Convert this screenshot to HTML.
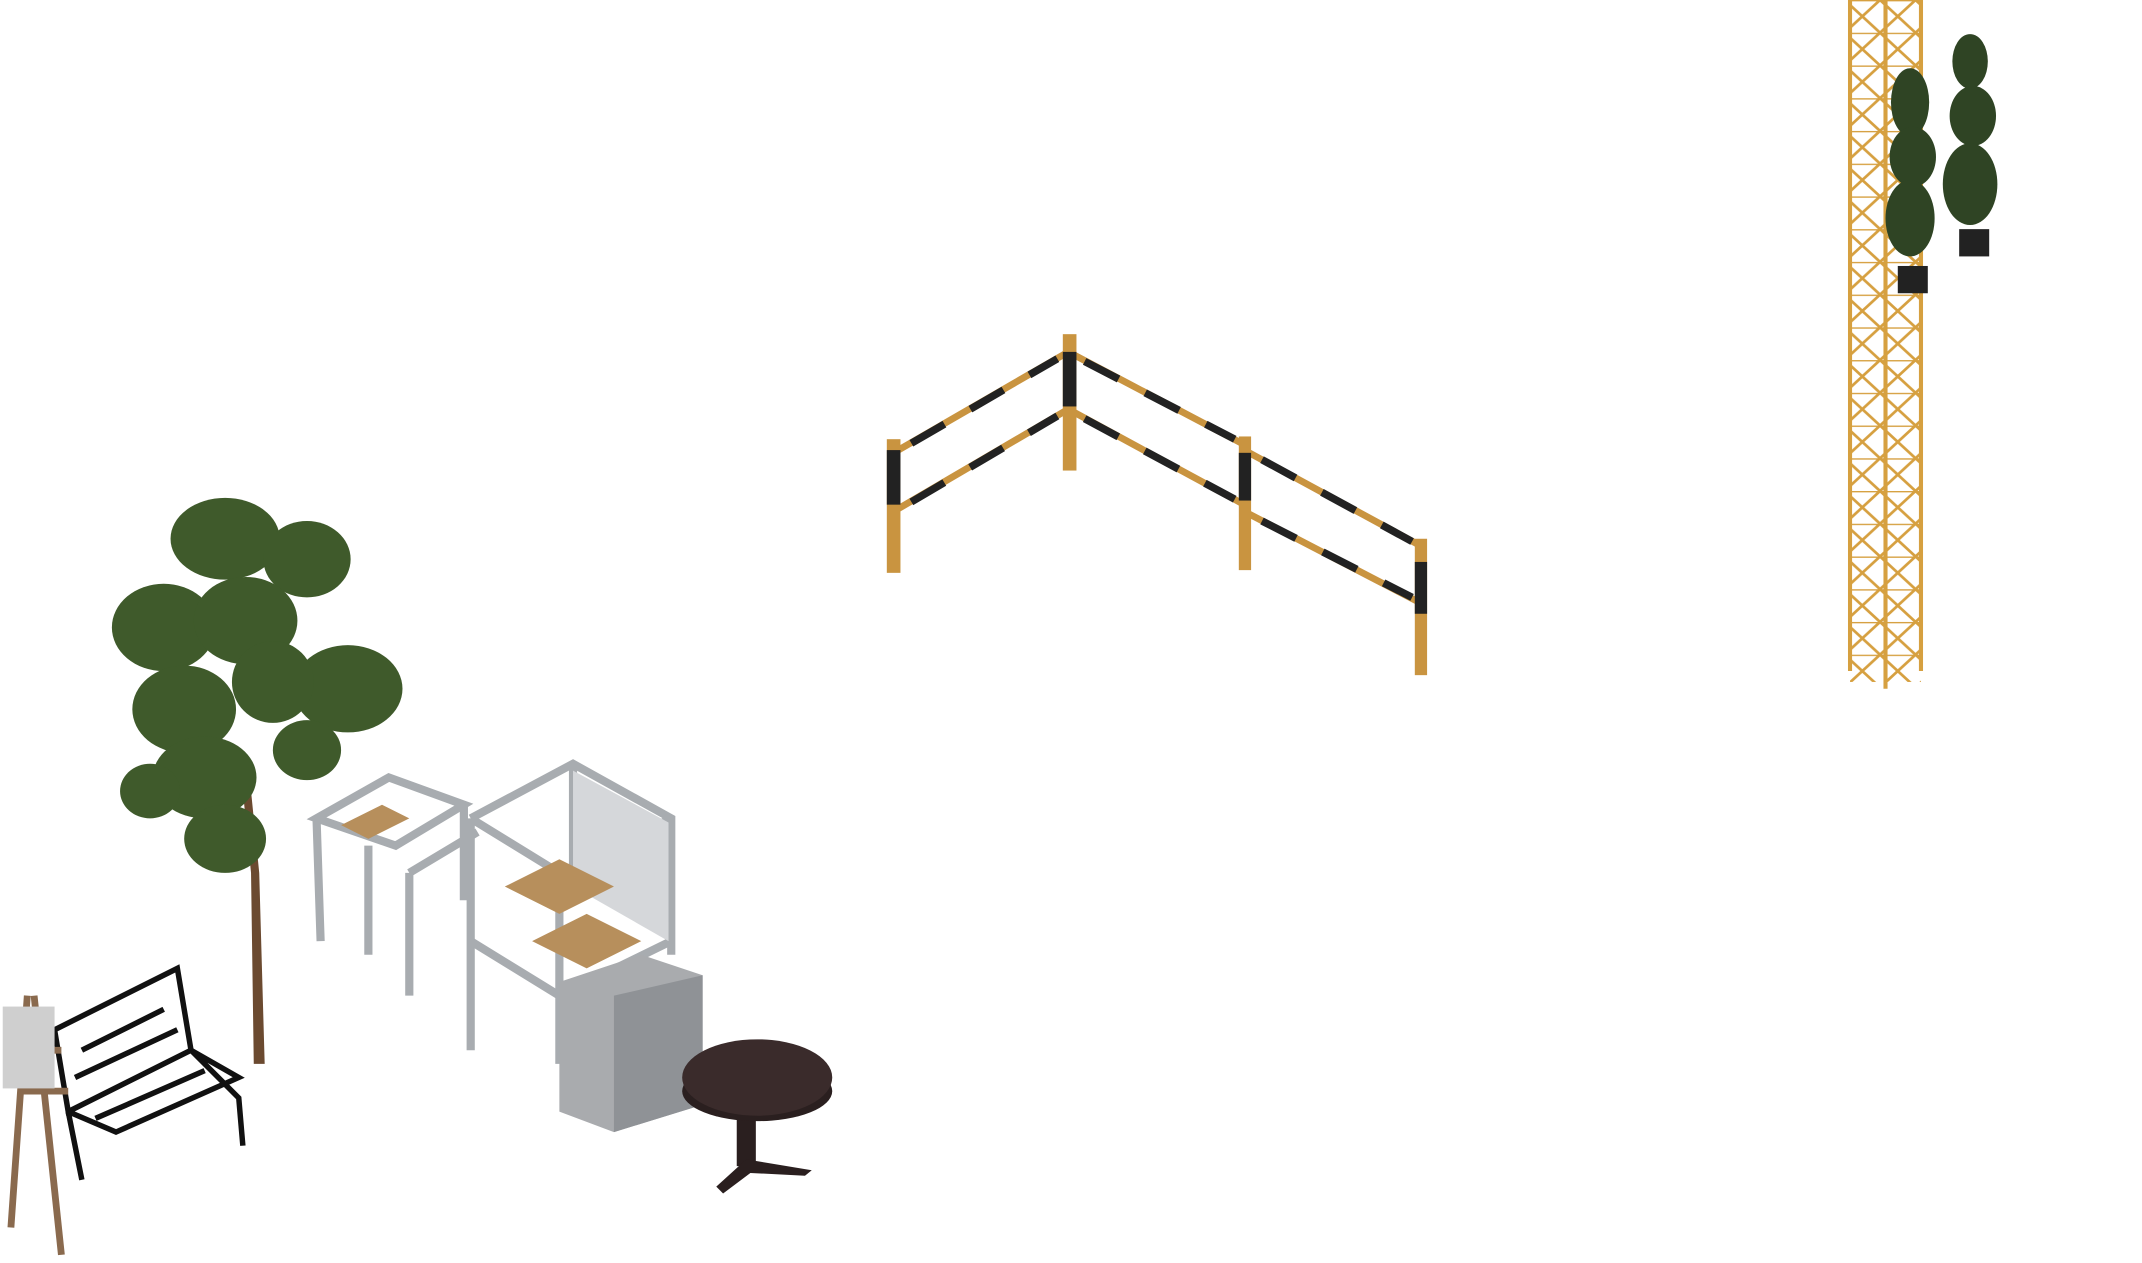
<!DOCTYPE html>
<html><head><meta charset="utf-8"><style>
html,body{margin:0;padding:0;background:#fff;width:2142px;height:1263px;overflow:hidden}
svg{display:block}
</style></head><body>
<svg width="2142" height="1263" viewBox="0 0 1570 926" preserveAspectRatio="none" xmlns="http://www.w3.org/2000/svg">
<defs>
<pattern id="lat" width="26" height="24" patternUnits="userSpaceOnUse">
<path d="M0 0L26 24M26 0L0 24M0 0H26" stroke="#d6a040" stroke-width="2" fill="none"/>
</pattern>
</defs>
<!-- fence -->
<g stroke-linecap="butt">
<g stroke="#c99440" stroke-width="5">
<line x1="655" y1="332" x2="783" y2="258"/><line x1="655" y1="375" x2="783" y2="300"/>
<line x1="783" y1="258" x2="912" y2="326"/><line x1="783" y1="300" x2="912" y2="370"/>
<line x1="912" y1="330" x2="1041" y2="400"/><line x1="912" y1="375" x2="1041" y2="442"/>
</g>
<g stroke="#222" stroke-width="5.5" stroke-dasharray="28 22">
<line x1="668" y1="325" x2="775" y2="263"/><line x1="668" y1="368" x2="775" y2="305"/>
<line x1="795" y1="265" x2="905" y2="322"/><line x1="795" y1="307" x2="905" y2="366"/>
<line x1="925" y1="337" x2="1035" y2="397"/><line x1="925" y1="382" x2="1035" y2="438"/>
</g>
<g fill="#c99440">
<rect x="650" y="322" width="10" height="98"/><rect x="779" y="245" width="10" height="100"/>
<rect x="908" y="320" width="9" height="98"/><rect x="1037" y="395" width="9" height="100"/>
</g>
<g fill="#222">
<rect x="650" y="330" width="10" height="40"/><rect x="779" y="258" width="10" height="40"/>
<rect x="908" y="332" width="9" height="35"/><rect x="1037" y="412" width="9" height="38"/>
</g>
</g>
<!-- crane tower -->
<rect x="1356" y="0" width="26" height="500" fill="url(#lat)"/>
<rect x="1382" y="0" width="26" height="500" fill="url(#lat)"/>
<g stroke="#d6a040" stroke-width="3"><line x1="1356" y1="0" x2="1356" y2="492"/><line x1="1382" y1="0" x2="1382" y2="505"/><line x1="1408" y1="0" x2="1408" y2="492"/></g>
<!-- topiaries -->
<g fill="#2f4424">
<ellipse cx="1400" cy="75" rx="14" ry="25"/><ellipse cx="1402" cy="115" rx="17" ry="22"/><ellipse cx="1400" cy="160" rx="18" ry="28"/>
<ellipse cx="1444" cy="45" rx="13" ry="20"/><ellipse cx="1446" cy="85" rx="17" ry="22"/><ellipse cx="1444" cy="135" rx="20" ry="30"/>
</g>
<rect x="1391" y="195" width="22" height="20" fill="#222"/>
<rect x="1436" y="168" width="22" height="20" fill="#222"/>
<!-- tree -->
<path d="M186 780 L194 780 L190 640 L182 560 L176 560 L184 640Z" fill="#6b4a30"/>
<g fill="#3f5a2b">
<ellipse cx="165" cy="395" rx="40" ry="30"/><ellipse cx="225" cy="410" rx="32" ry="28"/>
<ellipse cx="120" cy="460" rx="38" ry="32"/><ellipse cx="180" cy="455" rx="38" ry="32"/>
<ellipse cx="255" cy="505" rx="40" ry="32"/><ellipse cx="200" cy="500" rx="30" ry="30"/>
<ellipse cx="135" cy="520" rx="38" ry="32"/><ellipse cx="150" cy="570" rx="38" ry="30"/>
<ellipse cx="225" cy="550" rx="25" ry="22"/><ellipse cx="165" cy="615" rx="30" ry="25"/>
<ellipse cx="110" cy="580" rx="22" ry="20"/>
</g>
<!-- machine frames -->
<g fill="none" stroke="#a8acb0" stroke-width="6">
<path d="M232 600 L235 690 M270 620 L270 700 M232 600 L285 570 L340 590 L290 620 Z"/>
<path d="M300 640 L300 730 M340 590 L340 660 M300 640 L350 610"/>
<path d="M345 600 L420 560 L492 600 L492 700 M345 600 L345 770 M420 560 L420 650 M345 600 L410 640 L410 780 M410 640 L492 600"/>
<path d="M345 690 L410 730 L492 690"/>
</g>
<polygon points="420,565 490,603 490,690 420,650" fill="#d5d7da"/>
<polygon points="370,650 410,630 450,650 410,670" fill="#b78f5c"/>
<polygon points="390,690 430,670 470,690 430,710" fill="#b78f5c"/>
<polygon points="250,605 280,590 300,600 270,615" fill="#b78f5c"/>
<!-- cabinet -->
<polygon points="410,720 470,700 515,715 515,810 450,830 410,815" fill="#a9abae"/>
<polygon points="450,730 515,715 515,810 450,830" fill="#8f9296"/>
<!-- table -->
<rect x="540" y="800" width="14" height="55" fill="#2a1f1f"/>
<path d="M525 870 L547 850 L595 858 L590 862 L550 860 L530 875Z" fill="#2a1f1f"/>
<ellipse cx="555" cy="800" rx="55" ry="22" fill="#2a1f1f"/>
<ellipse cx="555" cy="790" rx="55" ry="28" fill="#3a2b2b"/>
<!-- bench -->
<g fill="none" stroke="#111" stroke-width="4">
<path d="M40 755 L130 710 L140 770 L50 815 Z"/>
<path d="M50 815 L60 865 M140 770 L150 780 L175 805 L178 840 M50 815 L85 830 L175 790 L140 770"/>
<path d="M60 770 L120 740 M55 790 L130 755 M70 820 L150 785"/>
</g>
<!-- easel -->
<g stroke="#8a6a4e" stroke-width="5" fill="none">
<path d="M20 730 L8 900 M25 730 L45 920 M20 770 L45 770 M15 800 L50 800"/>
</g>
<rect x="2" y="738" width="38" height="60" fill="#cfcfcf"/>
</svg>
</body></html>
